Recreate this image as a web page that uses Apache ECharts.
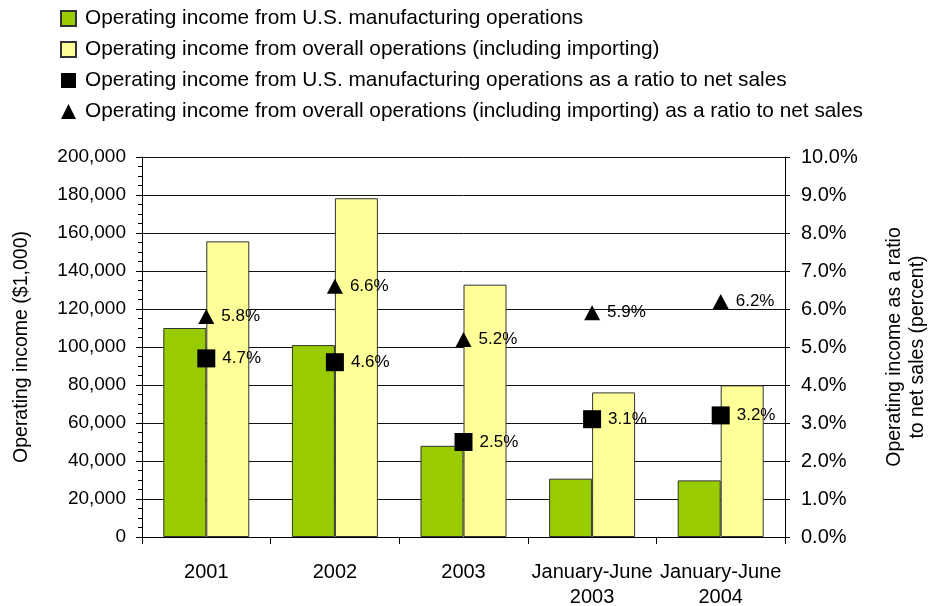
<!DOCTYPE html>
<html>
<head>
<meta charset="utf-8">
<script src="https://cdn.jsdelivr.net/npm/echarts@6/dist/echarts.min.js"></script>
<style>
  html, body { margin: 0; padding: 0; background: #fff; }
  #chart { width: 929px; height: 606px; }
</style>
</head>
<body>
<div id="chart"></div>
<script>
// categories and values
var periods = ['2001', '2002', '2003', 'January-June\n2003', 'January-June\n2004'];
var usMfgIncome = [110000, 101000, 48000, 30700, 29800];
var overallIncome = [155600, 178300, 132800, 76100, 79800];
var usMfgRatio = [4.7, 4.6, 2.5, 3.1, 3.2];
var overallRatio = [5.8, 6.6, 5.2, 5.9, 6.2];

var seriesNames = [
  'Operating income from U.S. manufacturing operations',
  'Operating income from overall operations (including importing)',
  'Operating income from U.S. manufacturing operations as a ratio to net sales',
  'Operating income from overall operations (including importing) as a ratio to net sales'
];

var font = "'Liberation Sans', Arial, sans-serif";

var chart = echarts.init(document.getElementById('chart'));

// label shown to the right of every marker
var pctLabel = {
  show: true,
  position: 'right',
  distance: 7,
  fontSize: 17,
  fontFamily: font,
  color: '#000',
  formatter: function (p) { return p.value.toFixed(1) + '%'; }
};

chart.setOption({
  animation: false,
  textStyle: { fontFamily: font, color: '#000' },
  legend: {
    orient: 'vertical',
    left: 60,
    top: 8,
    padding: 0,
    itemWidth: 15,
    itemHeight: 15,
    itemGap: 10,
    textStyle: { fontSize: 20.8, fontFamily: font, color: '#000', lineHeight: 21, padding: [0, 0, 0, 4] },
    data: [
      { name: seriesNames[0], icon: 'rect' },
      { name: seriesNames[1], icon: 'rect' },
      { name: seriesNames[2], icon: 'rect' },
      { name: seriesNames[3], icon: 'triangle' }
    ]
  },
  grid: { left: 142, right: 144, top: 157, bottom: 69, outerBoundsMode: 'none', containLabel: false },
  xAxis: {
    type: 'category',
    data: periods,
    axisLine: { lineStyle: { color: '#000' } },
    axisTick: { show: true, length: 7, lineStyle: { color: '#000' } },
    axisLabel: { fontSize: 20, fontFamily: font, color: '#000', margin: 23, lineHeight: 25, interval: 0 }
  },
  yAxis: [
    {
      type: 'value',
      min: 0,
      max: 200000,
      interval: 20000,
      name: 'Operating income ($1,000)',
      nameLocation: 'middle',
      nameGap: 110,
      nameTextStyle: { fontSize: 19.5, fontFamily: font, color: '#000' },
      axisLine: { show: true, lineStyle: { color: '#000' } },
      axisTick: { show: true, length: 6, lineStyle: { color: '#000' } },
      minorTick: { show: true, splitNumber: 4, length: 4, lineStyle: { color: '#000' } },
      axisLabel: {
        fontSize: 19, fontFamily: font, color: '#000', margin: 16,
        formatter: function (v) { return v.toLocaleString('en-US'); }
      },
      splitLine: { show: true, lineStyle: { color: '#111', width: 1 } }
    },
    {
      type: 'value',
      min: 0,
      max: 10,
      interval: 1,
      position: 'right',
      name: 'Operating income as a ratio\nto net sales (percent)',
      nameLocation: 'middle',
      nameGap: 98,
      nameRotate: 90,
      nameTextStyle: { fontSize: 19.5, fontFamily: font, color: '#000', lineHeight: 23 },
      axisLine: { show: true, lineStyle: { color: '#000' } },
      axisTick: { show: true, length: 5, lineStyle: { color: '#000' } },
      axisLabel: {
        fontSize: 20, fontFamily: font, color: '#000', margin: 16,
        formatter: function (v) { return v.toFixed(1) + '%'; }
      },
      splitLine: { show: false }
    }
  ],
  series: [
    {
      name: seriesNames[0],
      type: 'bar',
      data: usMfgIncome,
      barWidth: 43,
      barGap: '0%',
      itemStyle: { color: '#99CC00', borderColor: '#333', borderWidth: 1 }
    },
    {
      name: seriesNames[1],
      type: 'bar',
      data: overallIncome,
      barWidth: 43,
      barGap: '0%',
      itemStyle: { color: '#FFFF99', borderColor: '#333', borderWidth: 1 }
    },
    {
      name: seriesNames[2],
      type: 'scatter',
      yAxisIndex: 1,
      data: usMfgRatio,
      symbol: 'rect',
      symbolSize: 18,
      itemStyle: { color: '#000', opacity: 1 },
      label: pctLabel,
      z: 5
    },
    {
      name: seriesNames[3],
      type: 'scatter',
      yAxisIndex: 1,
      data: overallRatio,
      symbol: 'triangle',
      symbolSize: [16, 15],
      itemStyle: { color: '#000', opacity: 1 },
      label: pctLabel,
      z: 5
    }
  ]
});
</script>
</body>
</html>
